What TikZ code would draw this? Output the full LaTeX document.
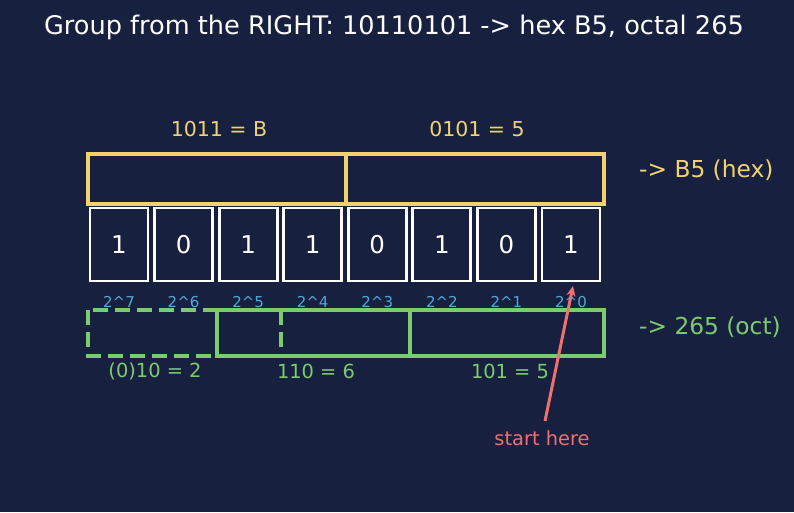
\documentclass[tikz,border=0pt]{standalone}
\usepackage{fontspec}
\setmainfont{DejaVu Sans}
\usetikzlibrary{arrows.meta}
\definecolor{bg}{RGB}{23,33,63}
\definecolor{hexc}{RGB}{242,210,110}
\definecolor{octc}{RGB}{125,202,112}
\definecolor{expc}{RGB}{80,168,218}
\definecolor{redc}{RGB}{240,112,112}
\newcommand{\fs}[1]{\fontsize{#1}{#1}\selectfont}
\tikzset{
  bitbox/.style={draw=white, line width=2.8pt, minimum width=58pt, minimum height=73pt, inner sep=0pt, text=white, font=\fs{24.5}},
  hexbox/.style={draw=hexc, line width=4.5pt, minimum width=258pt, minimum height=50pt, inner sep=0pt},
  octsolid/.style={draw=octc, line width=4.5pt},
  octdash/.style={draw=octc, line width=4.5pt, dash pattern=on 15pt off 7pt},
  hexlabel/.style={text=hexc, font=\fs{20.5}, inner sep=0pt},
  octlabel/.style={text=octc, font=\fs{19.4}, inner sep=0pt},
  explabel/.style={text=expc, font=\fs{15}, inner sep=0pt},
  sidelabel/.style={font=\fs{23.3}, inner sep=0pt, anchor=west},
  pointer/.style={draw=redc, line width=3pt, -{Stealth[length=10pt,width=9pt]}}
}
\begin{document}
\begin{tikzpicture}[x=1pt,y=-1pt]
\fill[bg] (0,0) rectangle (794,512);
\useasboundingbox (0,0) rectangle (794,512);

\node[text=white, font=\fs{25.6}, inner sep=0pt] (title) at (394,27) {Group from the RIGHT: 10110101 -> hex B5, octal 265};

% hex groups
\node[hexbox] (hexL) at (217,179) {};
\node[hexbox] (hexR) at (475,179) {};
\node[hexlabel] (hexLlab) at (219,129) {1011 = B};
\node[hexlabel] (hexRlab) at (477,129) {0101 = 5};
\node[sidelabel, text=hexc] (hexout) at (639,170) {-> B5 (hex)};

% bits
\foreach \b [count=\i from 0] in {1,0,1,1,0,1,0,1}{
  \node[bitbox] (b\i) at (119+64.57*\i,244.5) {\b};
}

% octal groups
\draw[octdash] (88,310) rectangle (217,356);
\node[inner sep=0pt, minimum width=129pt, minimum height=46pt] (oct0) at (152.5,333) {};
\draw[octsolid] (217,310) rectangle (604,356);
\node[inner sep=0pt, minimum width=193pt, minimum height=46pt] (oct1) at (313.5,333) {};
\node[inner sep=0pt, minimum width=194pt, minimum height=46pt] (oct2) at (507,333) {};
\draw[octsolid] (410,310) -- (410,356);
\draw[octdash] (281,310) -- (281,356);

% exponents
\foreach \e [count=\i from 0] in {7,6,5,4,3,2,1,0}{
  \node[explabel] (e\i) at (119+64.57*\i,302) {2\^{}\e};
}

\node[octlabel] (oct0lab) at (155,371) {(0)10 = 2};
\node[octlabel] (oct1lab) at (316,371) {110 = 6};
\node[octlabel] (oct2lab) at (510,371) {101 = 5};
\node[sidelabel, text=octc] (octout) at (639,327) {-> 265 (oct)};

% start here
\node[text=redc, font=\fs{19.4}, inner sep=0pt] (start) at (542,438) {start here};
\coordinate (tail) at (545,421);
\coordinate (tip) at (573,286);
\draw[pointer] (tail) -- (tip);
\end{tikzpicture}
\end{document}
